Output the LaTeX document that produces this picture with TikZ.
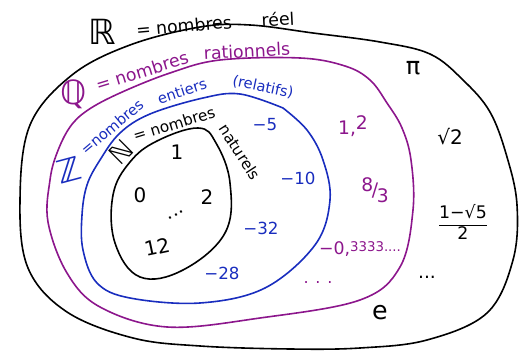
\documentclass[tikz,border=0pt]{standalone}
\usepackage{fontspec}
\setmainfont{DejaVu Sans}
\definecolor{qpurple}{RGB}{140,22,140}
\definecolor{zblue}{RGB}{25,45,190}
\tikzset{
  setline/.style={line width=1.2pt, line join=round, line cap=round},
  lbl/.style={inner sep=0pt, anchor=center},
}
\begin{document}
\begin{tikzpicture}[x=0.75pt,y=-0.75pt]
\useasboundingbox (0,0) rectangle (522,352);
% R (reels)
\draw[setline, black] plot[smooth cycle, tension=0.6] coordinates {
 (20,200) (30,125) (72,75) (130,45) (200,27) (250,25) (313,33) (380,42) (430,54)
 (463,80) (490,112) (507,157) (517,205) (513,260) (487,313) (427,340) (360,348)
 (290,349) (200,346) (133,338) (67,312) (28,268)};
% Q (rationnels)
\draw[setline, qpurple] plot[smooth cycle, tension=0.6] coordinates {
 (50,180) (57,153) (70,127) (88,110) (120,93) (170,73) (220,60) (300,58) (345,66)
 (370,80) (387,103) (402,128) (411,160) (413,210) (400,267) (360,300) (260,318)
 (167,327) (100,307) (67,273) (48,222)};
% Z (entiers)
\draw[setline, zblue] plot[smooth, tension=0.6] coordinates {
 (283,108) (307,130) (323,160) (330,200) (315,245) (265,288) (200,303) (130,298)
 (97,283) (83,250) (82,215) (87,185) (100,160) (120,133) (150,114) (203,98)
 (240,94) (283,108)};
% N (naturels)
\draw[setline, black] plot[smooth cycle, tension=0.65] coordinates {
 (113,195) (130,162) (157,141) (198,128) (216,143) (230,183) (225,233) (183,270)
 (140,277) (115,243)};

% labels R
\node[lbl, font=\fontsize{26}{26}\selectfont] (Rsym) at (102,32) {ℝ};
\node[lbl, font=\fontsize{13}{13}\selectfont, rotate=5] (Rtxt) at (184,26) {= nombres};
\node[lbl, font=\fontsize{13}{13}\selectfont, rotate=3] (Rreel) at (278,19) {réel};
% labels Q
\node[lbl, qpurple, font=\fontsize{25}{25}\selectfont] (Qsym) at (74,94) {ℚ};
\node[lbl, qpurple, font=\fontsize{13}{13}\selectfont, rotate=17] (Qtxt) at (142,71) {= nombres};
\node[lbl, qpurple, font=\fontsize{13}{13}\selectfont, rotate=3] (Qrat) at (247,51) {rationnels};
% labels Z
\node[lbl, zblue, font=\fontsize{24}{24}\selectfont, rotate=15] (Zsym) at (69,170) {ℤ};
\node[lbl, zblue, font=\fontsize{11}{11}\selectfont, rotate=40] (Ztxt) at (112,127) {=nombres};
\node[lbl, zblue, font=\fontsize{11}{11}\selectfont, rotate=18] (Zent) at (182,91) {entiers};
\node[lbl, zblue, font=\fontsize{11}{11}\selectfont, rotate=-12] (Zrel) at (263,87) {(relatifs)};
% labels N
\node[lbl, font=\fontsize{20}{20}\selectfont, rotate=45] (Nsym) at (121,152) {ℕ};
\node[lbl, font=\fontsize{11.5}{11.5}\selectfont, rotate=17] (Ntxt) at (174,124) {= nombres};
\node[lbl, font=\fontsize{11.5}{11.5}\selectfont, rotate=-57] (Nnat) at (240,152) {naturels};

% elements of N
\node[lbl, font=\fontsize{15}{15}\selectfont] (n1) at (177,152) {1};
\node[lbl, font=\fontsize{15}{15}\selectfont] (n0) at (140,195) {0};
\node[lbl, font=\fontsize{15}{15}\selectfont] (n2) at (207,197) {2};
\node[lbl, font=\fontsize{14}{14}\selectfont, rotate=30] (ndots) at (176,215) {...};
\node[lbl, font=\fontsize{15}{15}\selectfont, rotate=12] (n12) at (157,247) {12};

% elements of Z
\node[lbl, zblue, font=\fontsize{12.5}{12.5}\selectfont] (z5) at (265,125) {−5};
\node[lbl, zblue, font=\fontsize{12.5}{12.5}\selectfont] (z10) at (298,178) {−10};
\node[lbl, zblue, font=\fontsize{12.5}{12.5}\selectfont] (z32) at (261,228) {−32};
\node[lbl, zblue, font=\fontsize{12.5}{12.5}\selectfont] (z28) at (222,273) {−28};

% elements of Q
\node[lbl, qpurple, font=\fontsize{14}{14}\selectfont] (q12) at (353,126) {1,\raisebox{4pt}{2}};
\node[lbl, qpurple, font=\fontsize{14}{14}\selectfont] (q83) at (375,190) {\raisebox{4pt}{8}\kern-1pt/\kern-1pt\raisebox{-4pt}{3}};
\node[lbl, qpurple, font=\fontsize{13}{13}\selectfont] (q03) at (360,249) {−0,\raisebox{2pt}{\fontsize{10}{10}\selectfont 3333....}};
\node[lbl, qpurple, font=\fontsize{12}{12}\selectfont] (qdots) at (318,283) {. . .};

% elements of R
\node[lbl, font=\fontsize{18}{18}\selectfont] (pi) at (413,68) {π};
\node[lbl, font=\fontsize{15}{15}\selectfont] (sq2) at (450,137) {√2};
\node[lbl, font=\fontsize{13}{13}\selectfont] (frac) at (463,222) {$\displaystyle\frac{\mbox{1−√5}}{\mbox{2}}$};
\node[lbl, font=\fontsize{14}{14}\selectfont] (rdots) at (427,277) {...};
\node[lbl, font=\fontsize{19}{19}\selectfont] (e) at (380,313) {e};
\end{tikzpicture}
\end{document}
